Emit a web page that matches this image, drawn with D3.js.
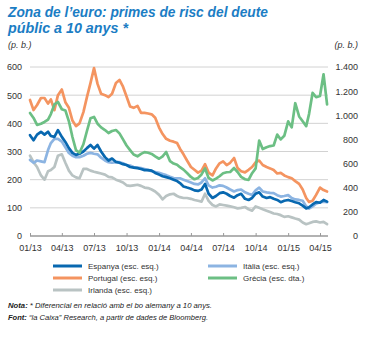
<!DOCTYPE html>
<html><head><meta charset="utf-8">
<script src="https://cdn.jsdelivr.net/npm/d3@7"></script>
<style>
body{margin:0;background:#fff}
text{font-family:"Liberation Sans",Arial,sans-serif}
</style>
</head><body><svg id="c" width="370" height="338"></svg>
<script>
// ---- data ----
// sample dates: 1st, 11th, 21st of each month, Jan 2013 .. Apr 2015
const dates = d3.range(84).map(i => new Date(2013, Math.floor(i / 3), [1, 11, 21][i % 3]));
const espanya = [358,340,360,370,360,370,355,352,376,352, 334,312,295,288,292,300,312,323,310,323,
  300,280,268,275,263,260,255,252,245,243, 241,238,234,234,232,224,218,212,209,205,
  200,195,188,176,172,168,162,160,165,185, 150,135,142,152,155,150,142,136,145,150,
  132,128,135,150,155,140,135,138,132,128, 120,125,128,124,120,116,108,98,102,112,
  120,118,128,122];
const italia = [270,260,268,265,262,305,330,345,345,335, 315,295,285,280,280,285,292,295,292,290,
  278,268,262,260,262,262,258,252,250,245, 243,241,238,234,230,227,224,220,216,210,
  206,205,205,200,195,190,185,183,190,205, 180,172,175,180,178,172,165,158,163,165,
  155,150,146,162,172,158,155,153,152,145, 140,142,145,135,130,128,125,105,97,105,
  115,120,122,120];
const portugal = [483,447,465,490,490,470,485,447,500,520, 475,455,410,390,400,440,493,543,596,540,
  505,500,493,505,543,554,530,495,460,455, 462,437,437,435,432,420,385,362,345,338,
  335,330,310,290,268,245,235,225,232,255, 225,215,240,258,265,252,260,277,241,230,
  226,235,245,262,268,252,245,240,234,222, 224,215,209,205,195,185,165,135,121,125,
  146,172,163,158];
const grecia = [1019,978,920,930,945,965,1010,1090,1110,1050, 1040,950,820,712,690,760,870,975,986,930,
  900,878,853,870,878,850,800,750,712,675, 660,680,695,690,680,660,640,660,696,620,
  600,590,570,550,522,489,470,481,510,560, 481,460,475,495,520,528,530,563,530,490,
  470,464,520,560,790,720,735,745,750,840, 800,830,950,900,1100,990,950,910,1010,1185,
  1150,1160,1340,1090];
const irlanda = [285,262,245,215,200,230,234,245,285,290, 260,232,215,208,205,238,238,232,228,225,
  222,218,210,208,200,195,190,180,178,180, 182,178,172,170,165,158,146,130,142,148,
  150,142,138,135,135,132,128,125,122,150, 125,110,105,112,110,108,105,102,98,100,
  103,95,90,105,100,95,90,85,80,78, 74,68,70,66,62,58,48,42,45,50,
  52,48,50,42];
const leftTicks = [0,100,200,300,400,500,600];
const rightTicks = [0,200,400,600,800,1000,1200,1400];
const xTicks = ["2013-01","2013-04","2013-07","2013-10","2014-01","2014-04","2014-07","2014-10","2015-01","2015-04"];
const seriesNames = ["Espanya (esc. esq.)","Itàlia (esc. esq.)","Portugal (esc. esq.)","Grècia (esc. dta.)","Irlanda (esc. esq.)"];

// ---- chart ----
const svg = d3.select("#c");
const C = {esp:"#0868b0", ita:"#8cb4e2", por:"#f49460", gre:"#6cbf84", irl:"#b9c3c3"};
const x = d3.scaleTime().domain([new Date(2013,0,1), new Date(2015,3,1)]).range([30,320]);
const yL = d3.scaleLinear().domain([0,600]).range([236,67]);
const yR = d3.scaleLinear().domain([0,1400]).range([236,67]);
const fmt = d3.formatLocale({decimal:",", thousands:".", grouping:[3], currency:["","€"]}).format(",");

// title
const title = svg.append("g").attr("fill","#1b7dc4").style("font-weight","bold").style("font-style","italic").style("font-size","14.5px");
title.append("text").attr("x",8).attr("y",17).attr("textLength",260).attr("lengthAdjust","spacingAndGlyphs").text("Zona de l’euro: primes de risc del deute");
title.append("text").attr("x",8).attr("y",33).attr("textLength",120).attr("lengthAdjust","spacingAndGlyphs").text("públic a 10 anys *");
svg.append("text").attr("x",8).attr("y",48).style("font-size","9px").style("font-style","italic").attr("fill","#333").text("(p. b.)");
svg.append("text").attr("x",358).attr("y",48).attr("text-anchor","end").style("font-size","9px").style("font-style","italic").attr("fill","#333").text("(p. b.)");

// grid
svg.append("g").selectAll("line").data(leftTicks.filter(d=>d>0)).join("line")
  .attr("x1",30).attr("x2",328).attr("y1",d=>yL(d)).attr("y2",d=>yL(d))
  .attr("stroke","#d2d2d2").attr("stroke-width",1);

// left axis
const gl = svg.append("g").attr("transform","translate(30,0)")
  .call(d3.axisLeft(yL).tickValues(leftTicks).tickSize(0).tickPadding(8).tickFormat(fmt));
gl.select(".domain").remove();
gl.selectAll("text").attr("fill","#333").style("font-size","9px").style("font-family","Liberation Sans, Arial, sans-serif");

// right axis
const gr = svg.append("g").attr("transform","translate(358,0)")
  .call(d3.axisRight(yR).tickValues(rightTicks).tickSize(0).tickFormat(fmt));
gr.select(".domain").remove();
gr.selectAll("text").attr("x",0).attr("text-anchor","end").attr("fill","#333").style("font-size","9px").style("font-family","Liberation Sans, Arial, sans-serif");

// bottom axis
svg.append("line").attr("x1",30).attr("x2",328).attr("y1",236).attr("y2",236).attr("stroke","#999").attr("stroke-width",1.3);
const gx = svg.append("g").attr("transform","translate(0,236)")
  .call(d3.axisBottom(x).tickValues(xTicks.map(s=>d3.timeParse("%Y-%m")(s))).tickSizeInner(-3).tickSizeOuter(0).tickPadding(9).tickFormat(d3.timeFormat("%m/%y")));
gx.select(".domain").remove();
gx.selectAll("line").attr("stroke","#999");
gx.selectAll("text").attr("fill","#333").style("font-size","9px").style("font-family","Liberation Sans, Arial, sans-serif");

// lines
const lineL = d3.line().x((d,i)=>x(dates[i])).y(d=>yL(d));
const lineR = d3.line().x((d,i)=>x(dates[i])).y(d=>yR(d));
const series = [
  {v:irlanda, c:C.irl, g:lineL},
  {v:italia, c:C.ita, g:lineL},
  {v:espanya, c:C.esp, g:lineL},
  {v:portugal, c:C.por, g:lineL},
  {v:grecia, c:C.gre, g:lineR}
];
svg.append("g").selectAll("path").data(series).join("path")
  .attr("d",d=>d.g(d.v)).attr("fill","none").attr("stroke",d=>d.c)
  .attr("stroke-width",2.7).attr("stroke-linejoin","round").attr("stroke-linecap","round");

// legend
const leg = [
  {n:seriesNames[0], c:C.esp, x:53, y:266},
  {n:seriesNames[1], c:C.ita, x:208, y:266},
  {n:seriesNames[2], c:C.por, x:53, y:278},
  {n:seriesNames[3], c:C.gre, x:208, y:278},
  {n:seriesNames[4], c:C.irl, x:53, y:290}
];
const lg = svg.append("g").selectAll("g").data(leg).join("g").attr("transform",d=>`translate(${d.x},${d.y})`);
lg.append("line").attr("x1",0).attr("x2",29).attr("stroke",d=>d.c).attr("stroke-width",3);
lg.append("text").attr("x",35).attr("y",3).style("font-size","8px").attr("fill","#333").text(d=>d.n);

// notes
const n1 = svg.append("text").attr("x",8).attr("y",308).style("font-size","8px").style("font-style","italic").attr("fill","#222")
  .attr("textLength",204).attr("lengthAdjust","spacingAndGlyphs");
n1.append("tspan").style("font-weight","bold").text("Nota:");
n1.append("tspan").text(" * Diferencial en relació amb el bo alemany a 10 anys.");
const n2 = svg.append("text").attr("x",8).attr("y",320).style("font-size","8px").style("font-style","italic").attr("fill","#222")
  .attr("textLength",200).attr("lengthAdjust","spacingAndGlyphs");
n2.append("tspan").style("font-weight","bold").text("Font:");
n2.append("tspan").text(" “la Caixa” Research, a partir de dades de Bloomberg.");
</script></body></html>
